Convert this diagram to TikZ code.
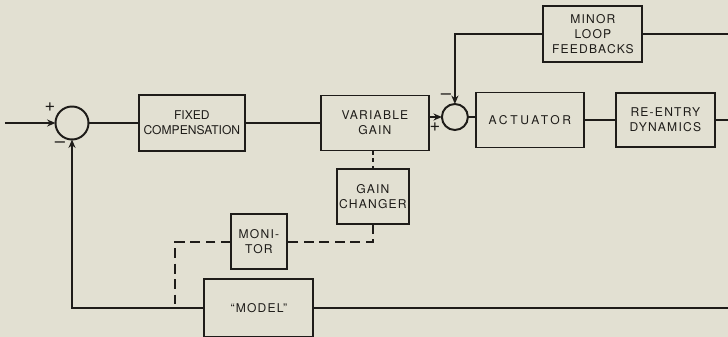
\documentclass[tikz,border=0pt]{standalone}
\usepackage{fontspec}
\newfontfamily\letterfont[LetterSpace=10]{TeX Gyre Heros}
\newfontfamily\narrowletterfont{TeX Gyre Heros}
\newfontfamily\wideletterfont[LetterSpace=22]{TeX Gyre Heros}
\usetikzlibrary{positioning, calc, arrows.meta}
\definecolor{paper}{RGB}{226,224,210}
\definecolor{ink}{RGB}{30,28,25}

\begin{document}
\begin{tikzpicture}[
        % Define block styles
        block/.style={draw=ink, line width=1.4pt, rectangle, inner sep=1pt, outer sep=0pt, align=center, text=ink, font=\letterfont\fontsize{8.6}{10.5}\selectfont},
        narrow/.style={font=\narrowletterfont\fontsize{8.6}{10.5}\selectfont},
        wide/.style={font=\wideletterfont\fontsize{8.6}{10.5}\selectfont},
        junction/.style={draw=ink, line width=1.4pt, circle, minimum size=0.825cm, inner sep=0pt, outer sep=0pt},
        sign/.style={inner sep=0pt, text=ink, font=\narrowletterfont\fontsize{13}{13}\selectfont},
        link/.style={draw=ink, line width=1.4pt},
        arrow/.style={draw=ink, line width=1.4pt, -{Stealth[length=6pt, width=5pt]}},
        dashlink/.style={draw=ink, line width=1.4pt, dash pattern=on 7pt off 4pt}
    ]

    % --- Paper and frame ---
    \fill[paper] (0,0) rectangle (18.2,-8.425);
    \clip (0,0) rectangle (18.2,-8.425);
    \coordinate (edge) at (18.2,0);

    % --- Nodes Placement ---
    \node[junction] (sum1) at (1.8,-3.075) {};
    \coordinate (input) at (0.125,-3.075);

    \node[block, narrow, minimum width=2.65cm, minimum height=1.4cm, right=1.26cm of sum1] (fixcomp) {FIXED\\COMPENSATION};
    \node[block, minimum width=2.7cm, minimum height=1.375cm, right=1.9cm of fixcomp] (vargain) {VARIABLE\\GAIN};

    \node[junction, minimum size=0.65cm, right=0.325cm of vargain, yshift=0.15cm] (sum2) {};
    \node[block, wide, minimum width=2.7cm, minimum height=1.375cm, right=0.2cm of sum2, yshift=-0.075cm] (actuator) {ACTUATOR};
    \node[block, minimum width=2.475cm, minimum height=1.35cm, right=0.8cm of actuator] (reentry) {RE-ENTRY\\DYNAMICS};

    % Minor loop above the actuator
    \node[block, minimum width=2.475cm, minimum height=1.4cm, above=0.76cm of actuator, xshift=1.575cm] (minor) {MINOR\\LOOP\\FEEDBACKS};

    % Adaptive part below the main path
    \node[block, minimum width=1.8cm, minimum height=1.375cm, below=0.46cm of vargain, xshift=-0.05cm] (gainch) {GAIN\\CHANGER};
    \node[block, minimum width=1.4cm, minimum height=1.375cm, left=1.25cm of gainch, yshift=-1.1375cm] (monitor) {MONI-\\TOR};
    \node[block, minimum width=2.725cm, minimum height=1.45cm, below=0.25cm of monitor] (model) {“MODEL”};
    \coordinate (tap) at ($(model.west)+(-0.725,0)$);

    % Signs at the summing points
    \node[sign] (plus1) at ($(sum1)+(-0.55,0.4)$) {+};
    \node[sign] (minus1) at ($(sum1)+(-0.3,-0.55)$) {–};
    \node[sign] (minus2) at ($(sum2)+(-0.225,0.5)$) {–};
    \node[sign] (plus2) at ($(sum2)+(-0.5,-0.25)$) {+};

    % --- Connections / Arrows ---
    \draw[arrow] (input) -- (sum1.west);
    \draw[link] (sum1) -- (fixcomp);
    \draw[link] (fixcomp) -- (vargain);
    \draw[arrow] (vargain.east |- sum2.west) -- (sum2.west);
    \draw[link] (sum2.east) -- (sum2.east -| actuator.west);
    \draw[link] (actuator) -- (reentry);
    \draw[link] (reentry.east) -- (reentry.east -| edge);

    % Minor loop feedback
    \draw[link] (minor.east) -- (minor.east -| edge);
    \draw[arrow] (minor.west) -| (sum2.north);

    % Model output back to the first summing point
    \draw[link] (model.east) -- (model.east -| edge);
    \draw[arrow] (model.west) -| (sum1.south);

    % Dashed adaptation paths
    \draw[dashlink, dash pattern=on 3pt off 2.5pt] (vargain.south -| gainch.north) -- (gainch.north);
    \draw[dashlink] (gainch.south) |- (monitor.east);
    \draw[dashlink] (monitor.west) -| (tap);

\end{tikzpicture}
\end{document}
